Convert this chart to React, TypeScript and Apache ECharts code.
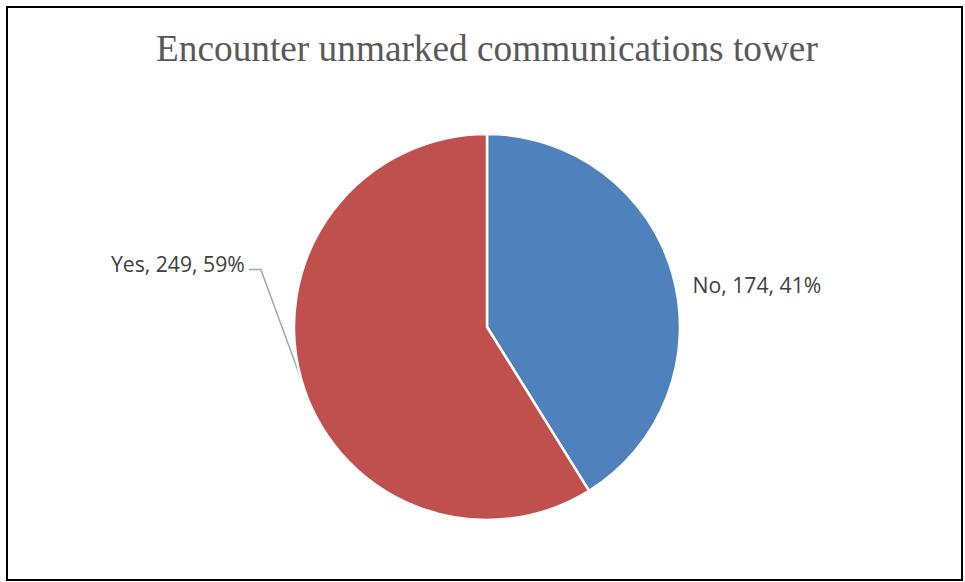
import React, { useEffect, useRef } from "react";
import * as echarts from "echarts";

const titleText = "Encounter unmarked communications tower";
const categories = ["No", "Yes"];
const counts = [174, 249];
const colors = ["#4F81BD", "#C0504D"];

export default function App() {
  const ref = useRef<HTMLDivElement>(null);

  useEffect(() => {
    if (!ref.current) return;
    const chart = echarts.init(ref.current, undefined, { renderer: "svg" });
    const data = categories.map((name, i) => ({
      name,
      value: counts[i],
      itemStyle: { color: colors[i] },
    }));
    chart.setOption({
      animation: false,
      backgroundColor: "#ffffff",
      title: {
        text: titleText,
        left: 151,
        top: 25,
        textStyle: {
          fontFamily: "'Liberation Serif', 'Times New Roman', serif",
          fontSize: 37.3,
          fontWeight: "normal",
          color: "#595959",
        },
      },
      graphic: [
        {
          type: "rect",
          shape: { x: 7, y: 7, width: 955, height: 573 },
          style: { fill: "none", stroke: "#000000", lineWidth: 2 },
          silent: true,
        },
      ],
      series: [
        {
          type: "pie",
          center: [487, 327],
          radius: 193,
          startAngle: 90,
          clockwise: true,
          percentPrecision: 0,
          data,
          itemStyle: { borderColor: "#ffffff", borderWidth: 2.5 },
          label: {
            show: true,
            position: "outside",
            formatter: "{b}, {c}, {d}%",
            fontFamily: "'Open Sans', 'Noto Sans', sans-serif",
            fontSize: 21.2,
            color: "#404040",
          },
          labelLine: {
            show: true,
            length: 15,
            length2: 15,
            lineStyle: { color: "#A6A6A6", width: 1.5 },
          },
          labelLayout: (params: any) => {
            const p0 = params.labelLinePoints
              ? params.labelLinePoints[0]
              : [params.rect.x, params.rect.y];
            if (params.dataIndex === 0) {
              return {
                x: p0[0] + 20,
                y: p0[1] + 11,
                align: "left",
                verticalAlign: "middle",
                labelLinePoints: [p0, p0, p0],
              };
            }
            return {
              x: p0[0] - 56.6,
              y: p0[1] - 117,
              align: "right",
              verticalAlign: "middle",
              labelLinePoints: [
                p0,
                [p0[0] - 40.6, p0[1] - 110.6],
                [p0[0] - 52.6, p0[1] - 110.6],
              ],
            };
          },
        },
      ],
    });
    return () => chart.dispose();
  }, []);

  return (
    <div
      ref={ref}
      style={{ position: "absolute", left: 0, top: 0, width: 965, height: 582 }}
    />
  );
}
